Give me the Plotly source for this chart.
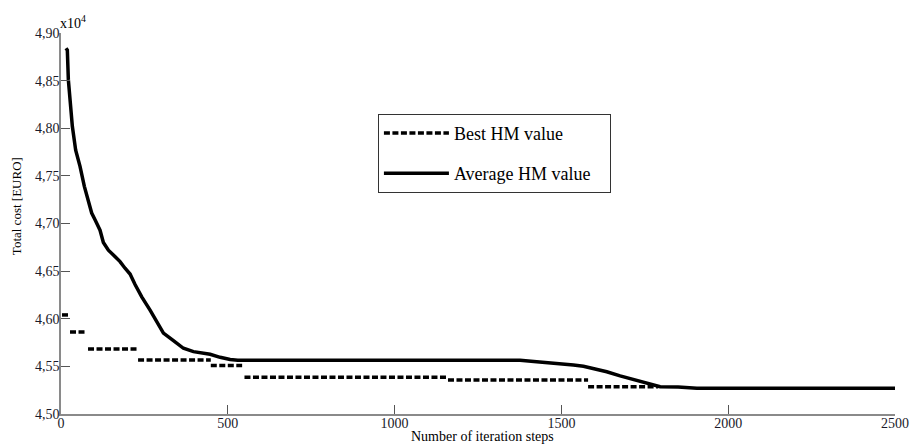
import plotly.graph_objects as go

# Average HM value (in units of 10^4 EURO)
avg_x = [15, 19, 22, 27, 34, 44, 57, 70, 82, 92, 102, 117, 127, 142, 157, 177, 192, 207, 222,
         242, 267, 287, 307, 337, 367, 397, 427, 447, 477, 507, 530, 800, 1100, 1376, 1426,
         1456, 1506, 1536, 1566, 1606, 1636, 1676, 1736, 1796, 1850, 1906, 2200, 2500]
avg_y = [4.884, 4.882, 4.851, 4.830, 4.802, 4.777, 4.760, 4.739, 4.725, 4.711, 4.704, 4.693,
         4.680, 4.672, 4.667, 4.660, 4.653, 4.647, 4.636, 4.623, 4.609, 4.597, 4.585, 4.577,
         4.569, 4.5655, 4.5635, 4.5627, 4.5595, 4.5572, 4.5564, 4.5564, 4.5564, 4.5564,
         4.5548, 4.554, 4.5532, 4.5515, 4.5502, 4.547, 4.5444, 4.540, 4.534, 4.5287, 4.5283,
         4.527, 4.527, 4.527]

# Best HM value: horizontal steps (start, end, value)
best_start = [3, 27, 81, 231, 449, 550, 1160, 1580]
best_end = [24, 77, 228, 449, 543, 1160, 1580, 1790]
best_val = [4.604, 4.586, 4.5683, 4.5567, 4.551, 4.5385, 4.5357, 4.5287]

y_tickvals = [4.50, 4.55, 4.60, 4.65, 4.70, 4.75, 4.80, 4.85, 4.90]
y_ticktext = ["4,50", "4,55", "4,60", "4,65", "4,70", "4,75", "4,80", "4,85", "4,90"]
x_tickvals = [0, 500, 1000, 1500, 2000, 2500]
x_ticktext = ["0", "500", "1000", "1500", "2000", "2500"]

bx, by = [], []
for s, e, v in zip(best_start, best_end, best_val):
    bx += [s, e, None]
    by += [v, v, None]

FONT = "Liberation Serif"

fig = go.Figure()
fig.add_trace(go.Scatter(x=bx, y=by, mode="lines", name="Best HM value",
                         line=dict(color="black", width=3.5, dash="6px,2.5px"),
                         legendgroup="a"))
fig.add_trace(go.Scatter(x=avg_x, y=avg_y, mode="lines",
                         name="Average HM value\u00a0\u00a0\u00a0",
                         line=dict(color="black", width=3.5), legendgroup="b"))

axis_common = dict(showgrid=False, zeroline=False, showline=True, linecolor="#8a8a8a",
                   linewidth=1.5, ticks="inside", tickcolor="#555555", tickwidth=1,
                   ticklen=9, automargin=False,
                   tickfont=dict(family=FONT, size=14, color="#1a1a2a"))

fig.update_layout(
    width=911, height=448,
    margin=dict(l=61, r=16, t=33, b=34),
    paper_bgcolor="white", plot_bgcolor="white",
    font=dict(family=FONT, color="black"),
    xaxis=dict(range=[0, 2500], tickvals=x_tickvals, ticktext=x_ticktext,
               ticklabelstandoff=-5, **axis_common),
    yaxis=dict(range=[4.50, 4.90], tickvals=y_tickvals, ticktext=y_ticktext,
               ticklabelstandoff=-3, **axis_common),
    legend=dict(x=0.380, y=0.788, xanchor="left", yanchor="top",
                bgcolor="white", bordercolor="#333333", borderwidth=1,
                font=dict(family=FONT, size=18), tracegroupgap=14,
                itemwidth=65),
    showlegend=True,
    annotations=[
        dict(text="x10<sup>4</sup>", xref="paper", yref="paper", x=-0.003, y=1.0,
             xanchor="left", yanchor="bottom", showarrow=False,
             font=dict(family=FONT, size=14)),
        dict(text="Total cost [EURO]", xref="paper", yref="paper", x=-0.053, y=0.545,
             xanchor="center", yanchor="middle", textangle=-90, showarrow=False,
             font=dict(family=FONT, size=13)),
        dict(text="Number of iteration steps", xref="paper", yref="paper", x=0.505,
             y=-0.06, xanchor="center", yanchor="middle", showarrow=False,
             font=dict(family=FONT, size=14)),
    ],
)

fig.write_html("out.html", config={"displayModeBar": False},
               post_script="document.body.style.margin='0';")
